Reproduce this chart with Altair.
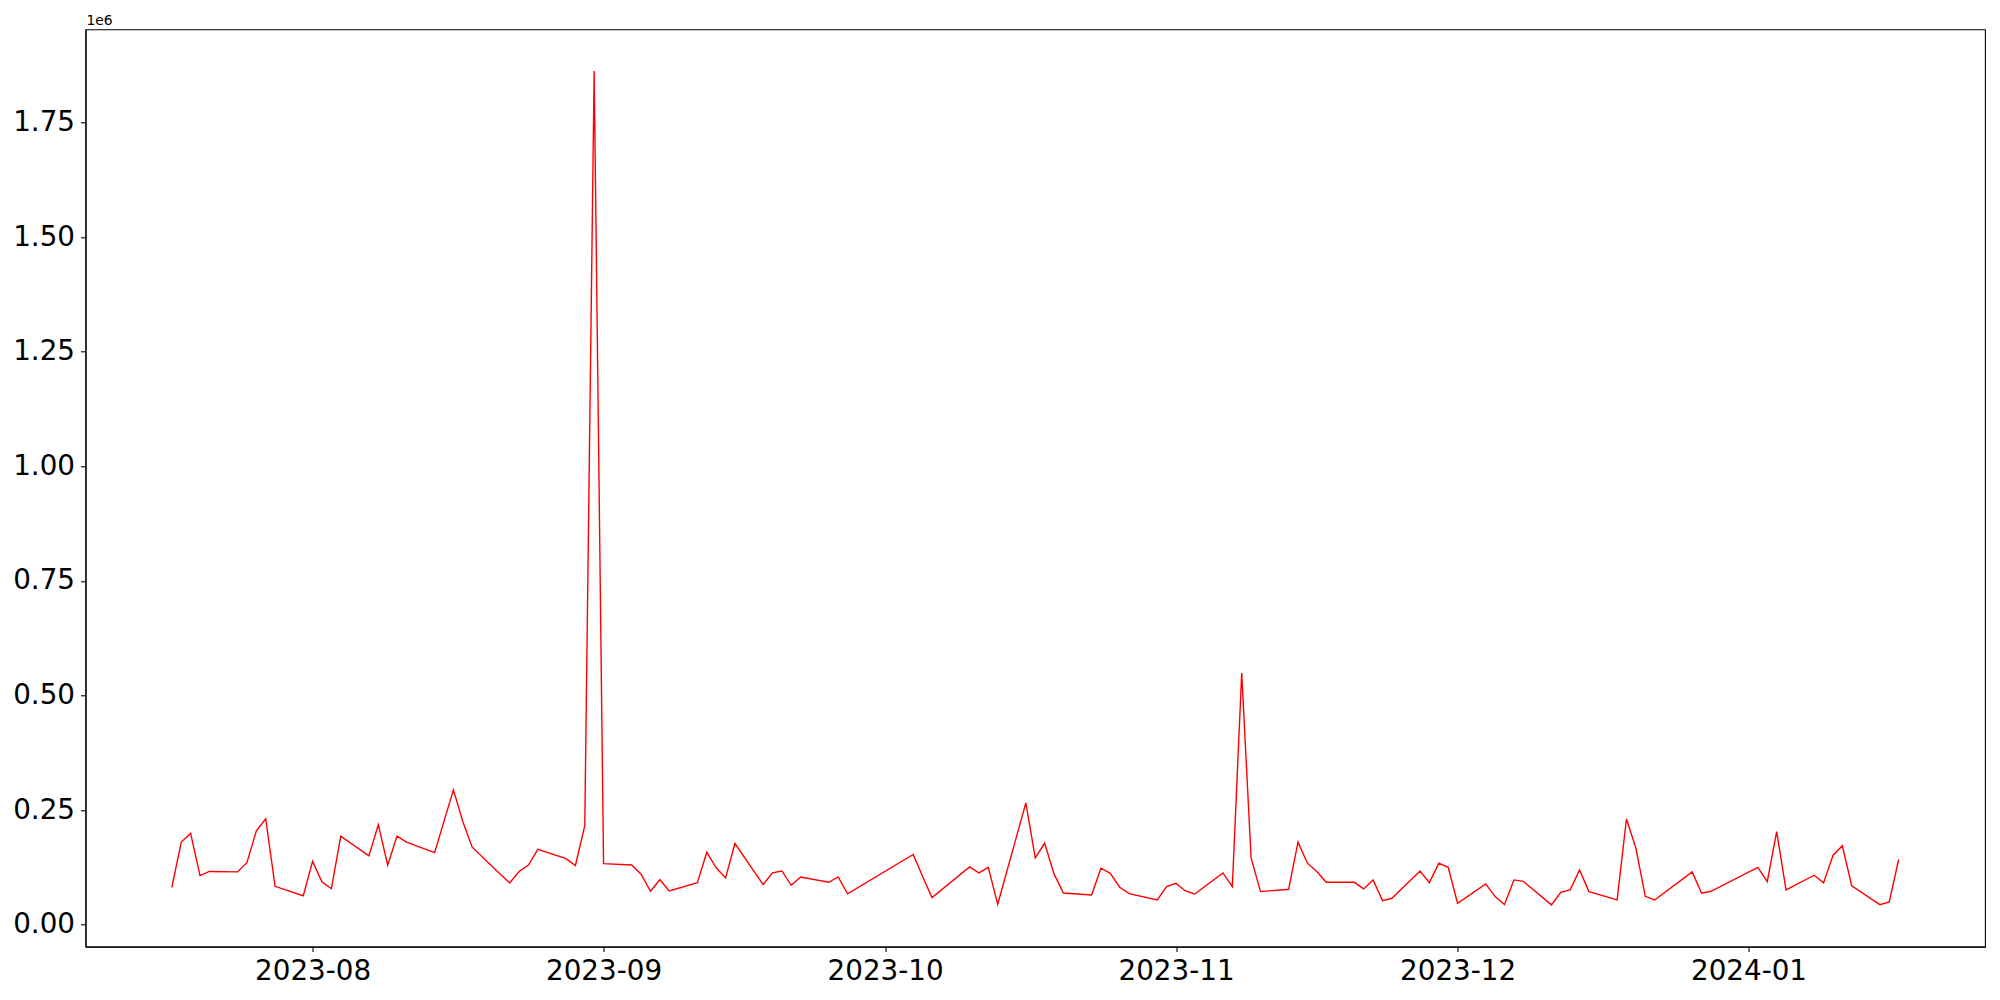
import altair as alt
import pandas as pd

dates = [
    "2023-07-17", "2023-07-18", "2023-07-19", "2023-07-20", "2023-07-21",
    "2023-07-24", "2023-07-25", "2023-07-26", "2023-07-27", "2023-07-28",
    "2023-07-31", "2023-08-01", "2023-08-02", "2023-08-03", "2023-08-04",
    "2023-08-07", "2023-08-08", "2023-08-09", "2023-08-10", "2023-08-11",
    "2023-08-14", "2023-08-16", "2023-08-17", "2023-08-18",
    "2023-08-21", "2023-08-22", "2023-08-23", "2023-08-24", "2023-08-25",
    "2023-08-28", "2023-08-29", "2023-08-30", "2023-08-31", "2023-09-01",
    "2023-09-04", "2023-09-05", "2023-09-06", "2023-09-07", "2023-09-08",
    "2023-09-11", "2023-09-12", "2023-09-13", "2023-09-14", "2023-09-15",
    "2023-09-18", "2023-09-19", "2023-09-20", "2023-09-21", "2023-09-22",
    "2023-09-25", "2023-09-26", "2023-09-27",
    "2023-10-04", "2023-10-05", "2023-10-06",
    "2023-10-10", "2023-10-11", "2023-10-12", "2023-10-13",
    "2023-10-16", "2023-10-17", "2023-10-18", "2023-10-19", "2023-10-20",
    "2023-10-23", "2023-10-24", "2023-10-25", "2023-10-26", "2023-10-27",
    "2023-10-30", "2023-10-31", "2023-11-01", "2023-11-02", "2023-11-03",
    "2023-11-06", "2023-11-07", "2023-11-08", "2023-11-09", "2023-11-10",
    "2023-11-13", "2023-11-14", "2023-11-15", "2023-11-16", "2023-11-17",
    "2023-11-20", "2023-11-21", "2023-11-22", "2023-11-23", "2023-11-24",
    "2023-11-27", "2023-11-28", "2023-11-29", "2023-11-30", "2023-12-01",
    "2023-12-04", "2023-12-05", "2023-12-06", "2023-12-07", "2023-12-08",
    "2023-12-11", "2023-12-12", "2023-12-13", "2023-12-14", "2023-12-15",
    "2023-12-18", "2023-12-19", "2023-12-20", "2023-12-21", "2023-12-22",
    "2023-12-26", "2023-12-27", "2023-12-28",
    "2024-01-02", "2024-01-03", "2024-01-04", "2024-01-05",
    "2024-01-08", "2024-01-09", "2024-01-10", "2024-01-11", "2024-01-12",
    "2024-01-15", "2024-01-16", "2024-01-17",
]

values = [
    81400, 180000, 199000, 107000, 116000,
    115000, 135000, 204000, 231000, 83600,
    63000, 138000, 93000, 78600, 193000,
    150000, 218000, 130000, 193000, 180000,
    157000, 294000, 225000, 169000,
    110000, 91000, 116000, 130000, 164000,
    144000, 129000, 216000, 1862500, 133000,
    130000, 110000, 72700, 98000, 73500,
    91600, 158000, 124000, 102000, 177000,
    87300, 113000, 117000, 85800, 104000,
    92300, 104000, 67000,
    153000, 105000, 58900,
    126000, 113000, 125000, 44300,
    265500, 145500, 177500, 110600, 69000,
    64700, 123000, 112000, 81500, 67500,
    53800, 83000, 90000, 73400, 66900,
    112700, 83000, 549000, 145500, 72000,
    77000, 180000, 134000, 116000, 92300,
    92300, 77900, 97500, 52400, 57400,
    117000, 91600, 134000, 125000, 46500,
    88800, 61100, 43600, 97500, 94500,
    43000, 70600, 75700, 119000, 72000,
    53800, 230600, 167000, 61800, 53800,
    115000, 68300, 72700,
    125000, 93800, 203000, 75700,
    107700, 91000, 151000, 172000, 84400,
    43600, 49500, 142000,
]

y_ticks = [0, 250000, 500000, 750000, 1000000, 1250000, 1500000, 1750000]
x_ticks = ["2023-08-01", "2023-09-01", "2023-10-01", "2023-11-01", "2023-12-01", "2024-01-01"]

df = pd.DataFrame({"date": pd.to_datetime(dates), "value": values})

# matplotlib-like 5% margins
t0, t1 = df["date"].min(), df["date"].max()
span = t1 - t0
xd0 = (t0 - span * 0.05).value // 10**6
xd1 = (t1 + span * 0.05).value // 10**6
v0, v1 = min(values), max(values)
yd0 = v0 - 0.05 * (v1 - v0)
yd1 = v1 + 0.05 * (v1 - v0)

x_tick_vals = [pd.Timestamp(d).value // 10**6 for d in x_ticks]

FONT = "DejaVu Sans"

line = alt.Chart(df).mark_line(color="#ff0000", strokeWidth=1.4, clip=True).encode(
    x=alt.X(
        "date:T",
        scale=alt.Scale(type="utc", domain=[xd0, xd1], nice=False),
        axis=alt.Axis(values=x_tick_vals, format="%Y-%m", title=None, labelAngle=0),
    ),
    y=alt.Y(
        "value:Q",
        scale=alt.Scale(domain=[yd0, yd1], nice=False, zero=False),
        axis=alt.Axis(
            values=y_ticks,
            labelExpr="format(datum.value / 1000000, '.2f')",
            title=None,
        ),
    ),
)

offset_text = alt.Chart(pd.DataFrame({"t": ["1e6"]})).mark_text(
    align="left", baseline="alphabetic", fontSize=13.9, font=FONT, color="black"
).encode(text="t:N", x=alt.value(1), y=alt.value(-4))

chart = (
    alt.layer(line, offset_text)
    .properties(
        width=1899.5,
        height=917.3,
        autosize=alt.AutoSizeParams(type="none"),
        padding={"left": 77.5, "top": 21.3, "right": 5, "bottom": 60},
    )
    .configure_view(stroke="black", strokeWidth=1.1)
    .configure_axis(
        grid=False,
        domain=True,
        domainColor="black",
        domainWidth=1.1,
        tickColor="black",
        tickWidth=1.1,
        tickSize=5,
        labelFont=FONT,
        labelFontSize=27.8,
        labelColor="black",
        labelPadding=6,
    )
)

chart.save("out.html", embed_options={"renderer": "svg", "actions": False})
